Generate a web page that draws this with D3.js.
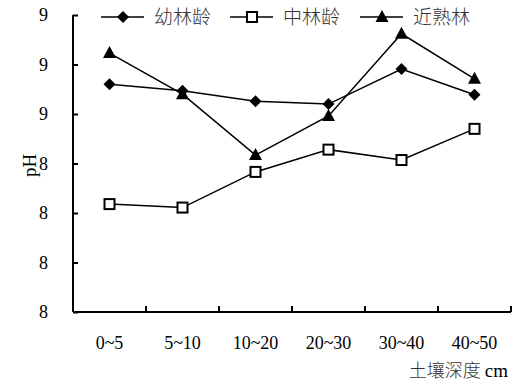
<!DOCTYPE html>
<html><head><meta charset="utf-8">
<script src="https://cdn.jsdelivr.net/npm/d3@7/dist/d3.min.js"></script>
<style>body{margin:0;background:#fff}</style>
</head><body><svg id="c" width="522" height="387"></svg>
<script>
const categories = ["0~5","5~10","10~20","20~30","30~40","40~50"];
const seriesNames = ["幼林龄","中林龄","近熟林"];
const young = [8.560, 8.547, 8.526, 8.520, 8.591, 8.539];
const middle = [8.318, 8.311, 8.383, 8.428, 8.407, 8.470];
const mature = [8.623, 8.540, 8.417, 8.496, 8.662, 8.571];
const yTickValues = [8.1, 8.2, 8.3, 8.4, 8.5, 8.6, 8.7];
const yTickLabels = ["8","8","8","8","9","9","9"];
const yTitle = "pH";
const xTitleCJK = "土壤深度";
const xTitleUnit = "cm";

const svg = d3.select("#c");
const L = 73, R = 511, T = 15, B = 312;
const x = d3.scaleBand().domain(categories).range([L, R]);
const y = d3.scaleLinear().domain([8.1, 8.7]).range([B, T]);
const SERIF = '"Liberation Serif","DejaVu Serif",serif';
const CJK = '"Noto Sans CJK SC",sans-serif';

// axes
const yAxis = d3.axisLeft(y).tickValues(yTickValues).tickSize(-5).tickPadding(25)
  .tickFormat((d,i)=>yTickLabels[i]);
const gy = svg.append("g").attr("transform",`translate(${L},0)`).call(yAxis)
  .attr("font-family", null).attr("font-size", null);
gy.select(".domain").attr("stroke","#000").attr("stroke-width",2).attr("d",`M0,${T}V${B}`);
gy.selectAll(".tick line").attr("stroke","#000").attr("stroke-width",2);
gy.selectAll(".tick text").style("font-family",SERIF).style("font-size","18px").attr("fill","#000");

const xb = d3.scalePoint().domain(d3.range(categories.length+1)).range([L,R]);
const gx = svg.append("g").attr("transform",`translate(0,${B})`);
gx.append("path").attr("d",`M${L},0H${R}`).attr("stroke","#000").attr("stroke-width",2);
gx.selectAll("line.t").data(d3.range(1,categories.length+1)).join("line")
  .attr("x1",d=>xb(d)).attr("x2",d=>xb(d)).attr("y1",0).attr("y2",-6)
  .attr("stroke","#000").attr("stroke-width",2);
gx.selectAll("text").data(categories).join("text")
  .attr("x",d=>x(d)+x.bandwidth()/2).attr("y",37).attr("text-anchor","middle")
  .style("font-family",SERIF).style("font-size","18px").attr("fill","#000").text(d=>d);

svg.append("text").attr("transform",`translate(36,${(T+B)/2+2}) rotate(-90)`)
  .attr("text-anchor","middle").style("font-family",SERIF).style("font-size","19px").attr("fill","#000").text(yTitle);
const xt = svg.append("text").attr("x",508).attr("y",377).attr("text-anchor","end");
xt.append("tspan").style("font-family",CJK).style("font-size","18px").attr("font-weight",300).attr("fill","#333").text(xTitleCJK + " ");
xt.append("tspan").style("font-family",SERIF).style("font-size","19px").attr("fill","#000").text(xTitleUnit);

const cx = d => x(d)+x.bandwidth()/2;
const line = d3.line().x((d,i)=>cx(categories[i])).y(d=>y(d));
const data = [young, middle, mature];
function marker(g, k, px, py){
  if(k===0){
    g.append("path").attr("d",`M${px},${py-6}L${px+6},${py}L${px},${py+6}L${px-6},${py}Z`).attr("fill","#000");
  } else if(k===1){
    g.append("rect").attr("x",px-5).attr("y",py-5).attr("width",10).attr("height",10)
      .attr("fill","#fff").attr("stroke","#000").attr("stroke-width",2);
  } else {
    g.append("path").attr("d",`M${px},${py-7}L${px+6.5},${py+5}L${px-6.5},${py+5}Z`).attr("fill","#000");
  }
}
data.forEach((s,k)=>{
  const g = svg.append("g");
  g.append("path").attr("d",line(s)).attr("fill","none").attr("stroke","#000").attr("stroke-width",1.5);
  s.forEach((v,i)=>marker(g,k,cx(categories[i]),y(v)));
});

// legend
const lx = [101, 230, 360];
seriesNames.forEach((n,k)=>{
  const g = svg.append("g");
  const yy = 17;
  g.append("line").attr("x1",lx[k]).attr("x2",lx[k]+43).attr("y1",yy).attr("y2",yy).attr("stroke","#000").attr("stroke-width",1.5);
  marker(g,k,lx[k]+22,yy);
  g.append("text").attr("x",lx[k]+53).attr("y",yy+7).style("font-family",CJK)
    .style("font-size","19px").attr("font-weight",300).attr("fill","#333").text(n);
});
</script></body></html>
